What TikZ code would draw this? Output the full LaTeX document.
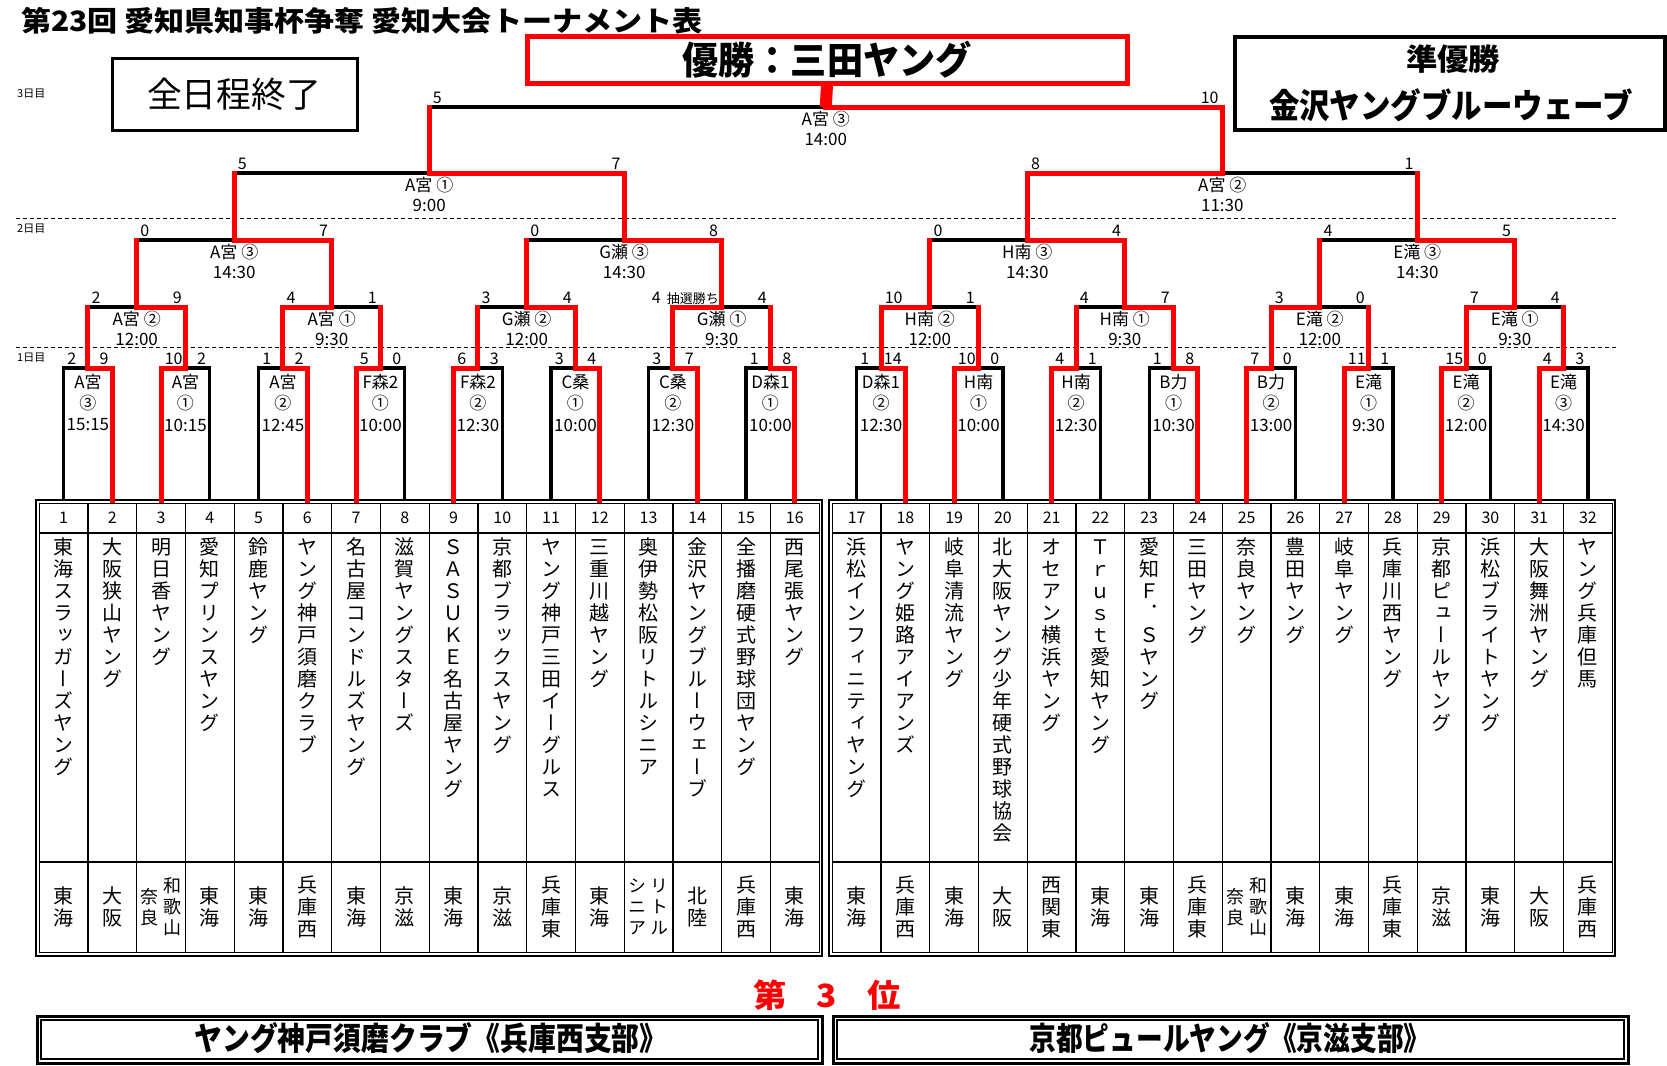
\documentclass[tikz,border=0pt]{standalone}
\usepackage{fontspec}
\usepackage{graphicx}
\setmainfont{Noto Sans CJK JP}
\newfontfamily\tatefont[RawFeature=+vert]{Noto Sans CJK JP}

% one character per line, for the team columns
\def\tateaux#1{\ifx#1\relax\else\hbox to 1.1em{\hss\vrule height .88em depth .12em width 0pt #1\hss}\expandafter\tateaux\fi}
\newcommand\tatebox[2]{\vbox{\baselineskip=#1\lineskiplimit=-100pt\lineskip=0pt\expandafter\tateaux#2\relax}}
\newcommand\tworg[2]{{\fontsize{18}{21}\selectfont$\vcenter{\tatebox{21pt}{#2}}\kern3pt\vcenter{\tatebox{21pt}{#1}}$}}
\newcommand\wkn{\tworg{和歌山}{奈良}}
\newcommand\lts{\tworg{リトル}{シニア}}
\newcommand\fitw[2]{\resizebox{#1}{\height}{#2}}

\tikzset{
  declare function={tx(\k)=(\k<17)*(39.2+48.75*(\k-0.5))+(\k>16)*(832.3+48.75*(\k-16.5));},
  box/.style={line width=3.2pt, black},
  win/.style={line width=5pt, red, line cap=rect, line join=miter},
  daysep/.style={line width=1pt, dash pattern=on 4pt off 3pt},
  cell/.style={line width=1.2pt},
  lbl/.style={inner sep=0pt, font=\fontsize{17}{17}\selectfont},
  score/.style={inner sep=0pt, font=\fontsize{16}{16}\selectfont},
  day/.style={anchor=west, inner sep=0pt, font=\fontsize{11}{11}\selectfont},
  hdr/.style={inner sep=0pt, font=\fontsize{16}{16}\selectfont},
  tname/.style={anchor=north, inner sep=0pt, font=\tatefont\fontsize{20}{22}\selectfont},
  rname/.style={inner sep=0pt, font=\tatefont\fontsize{20}{22}\selectfont},
}

\def\matchlist{1/1/2/9/1/A宮/③/15:15, 1/2/10/2/0/A宮/①/10:15, 1/3/1/2/1/A宮/②/12:45, 1/4/5/0/0/F森2/①/10:00,
  1/5/6/3/0/F森2/②/12:30, 1/6/3/4/1/C桑/①/10:00, 1/7/3/7/1/C桑/②/12:30, 1/8/1/8/1/D森1/①/10:00,
  1/9/1/14/1/D森1/②/12:30, 1/10/10/0/0/H南/①/10:00, 1/11/4/1/0/H南/②/12:30, 1/12/1/8/1/B力/①/10:30,
  1/13/7/0/0/B力/②/13:00, 1/14/11/1/0/E滝/①/9:30, 1/15/15/0/0/E滝/②/12:00, 1/16/4/3/0/E滝/③/14:30,
  2/1/2/9/1/A宮/②/12:00, 2/2/4/1/0/A宮/①/9:30, 2/3/3/4/1/G瀬/②/12:00, 2/4/{}/4/0/G瀬/①/9:30,
  2/5/10/1/0/H南/②/12:00, 2/6/4/7/1/H南/①/9:30, 2/7/3/0/0/E滝/②/12:00, 2/8/7/4/0/E滝/①/9:30,
  3/1/0/7/1/A宮/③/14:30, 3/2/0/8/1/G瀬/③/14:30, 3/3/0/4/1/H南/③/14:30, 3/4/4/5/1/E滝/③/14:30,
  4/1/5/7/1/A宮/①/9:00, 4/2/8/1/0/A宮/②/11:30,
  5/1/5/10/1/A宮/③/14:00}

\def\teamlist{1/東海スラッガーズヤング/東海, 2/大阪狭山ヤング/大阪, 3/明日香ヤング/\wkn, 4/愛知プリンスヤング/東海,
  5/鈴鹿ヤング/東海, 6/ヤング神戸須磨クラブ/兵庫西, 7/名古屋コンドルズヤング/東海, 8/滋賀ヤングスターズ/京滋,
  9/ＳＡＳＵＫＥ名古屋ヤング/東海, 10/京都ブラックスヤング/京滋, 11/ヤング神戸三田イーグルス/兵庫東, 12/三重川越ヤング/東海,
  13/奥伊勢松阪リトルシニア/\lts, 14/金沢ヤングブルーウェーブ/北陸, 15/全播磨硬式野球団ヤング/兵庫西, 16/西尾張ヤング/東海,
  17/浜松インフィニティヤング/東海, 18/ヤング姫路アイアンズ/兵庫西, 19/岐阜清流ヤング/東海, 20/北大阪ヤング少年硬式野球協会/大阪,
  21/オセアン横浜ヤング/西関東, 22/Ｔｒｕｓｔ愛知ヤング/東海, 23/愛知Ｆ．Ｓヤング/東海, 24/三田ヤング/兵庫東,
  25/奈良ヤング/\wkn, 26/豊田ヤング/東海, 27/岐阜ヤング/東海, 28/兵庫川西ヤング/兵庫東,
  29/京都ピュールヤング/京滋, 30/浜松ブライトヤング/東海, 31/大阪舞洲ヤング/大阪, 32/ヤング兵庫但馬/兵庫西}

\begin{document}
\begin{tikzpicture}[x=1pt,y=-1pt]
  \useasboundingbox (0,0) rectangle (1667,1065);

  % heading
  \node[anchor=west, inner sep=0pt, font=\bfseries\fontsize{28}{28}\selectfont] (title) at (21,21) {\fitw{681pt}{第23回 愛知県知事杯争奪 愛知大会トーナメント表}};
  \node[draw=red, line width=5pt, minimum width=600pt, minimum height=46pt, inner sep=0pt] (champ) at (827,60) {};
  \node[inner sep=0pt, font=\bfseries\fontsize{38}{38}\selectfont] (champname) at (827,60) {\fitw{289pt}{優勝：三田ヤング}};
  \node[draw, line width=3.5pt, minimum width=430pt, minimum height=93pt, inner sep=0pt] (runner) at (1450,83.5) {};
  \node[inner sep=0pt, font=\bfseries\fontsize{30}{30}\selectfont] (runlbl) at (1453,59) {\fitw{94pt}{準優勝}};
  \node[inner sep=0pt, font=\bfseries\fontsize{34}{34}\selectfont] (runname) at (1451,105) {\fitw{364pt}{金沢ヤングブルーウェーブ}};
  \node[draw, line width=3pt, minimum width=245pt, minimum height=71pt, inner sep=0pt] (done) at (234.5,94.5) {};
  \node[inner sep=0pt, font=\fontsize{35}{35}\selectfont] (donelbl) at (234,94) {\fitw{174pt}{全日程終了}};

  \node[day] (day3) at (17,94) {3日目};
  \node[day] (day2) at (17,229) {2日目};
  \node[day] (day1) at (17,358) {1日目};
  \draw[daysep] (16,218) -- (1616,218);
  \draw[daysep] (16,347) -- (1616,347);

  % team tables
  \foreach \tl in {39.2,832.3} {
    \draw[line width=2pt] (\tl-3,500) rectangle (\tl+783,956);
    \draw[cell] (\tl,503.5) rectangle (\tl+780,952.5);
    \draw[cell] (\tl,533) -- (\tl+780,533);
    \draw[cell] (\tl,862) -- (\tl+780,862);
    \foreach \j in {1,...,15}
      \draw[cell] (\tl+48.75*\j,503.5) -- (\tl+48.75*\j,952.5);
  }
  \foreach \i/\nm/\rg in \teamlist {
    \pgfmathsetmacro\x{tx(\i)}
    \node[hdr] (h\i) at (\x,518) {\i};
    \node[tname] (n\i) at (\x,537) {\tatebox{22pt}{\nm}};
    \node[rname] (g\i) at (\x,907) {\tatebox{22pt}{\rg}};
  }

  % bracket lines and labels
  \foreach \r/\k/\sa/\sb/\w/\va/\vb/\tm in \matchlist {
    \pgfmathtruncatemacro\fa{(\k-1)*2^\r+1}
    \pgfmathtruncatemacro\la{\k*2^\r}
    \pgfmathtruncatemacro\hf{2^(\r-1)}
    \pgfmathsetmacro\xc{(tx(\fa)+tx(\la))/2}
    \pgfmathsetmacro\xl{(tx(\fa)+tx(\fa+\hf-1))/2}
    \pgfmathsetmacro\xr{(tx(\fa+\hf)+tx(\la))/2}
    \pgfmathsetmacro\yh{{500,368,307,240,173,107,83}[\r]}
    \coordinate (c\r-\k) at (\xc,\yh);
    \ifnum\r=1
      \draw[box] (\xl,500) -- (\xl,\yh) -- (\xr,\yh) -- (\xr,500);
      \node[lbl] (v\r-\k) at (\xc,382) {\va};
      \node[lbl] (o\r-\k) at (\xc,403) {\vb};
      \node[lbl] (t\r-\k) at (\xc,425) {\tm};
    \else
      \draw[box] (\xl,\yh) -- (\xr,\yh);
      \node[lbl] (v\r-\k) at (\xc,\yh+12) {\va\ \vb};
      \node[lbl] (t\r-\k) at (\xc,\yh+32) {\tm};
    \fi
    \node[score, anchor=base west] (sa\r-\k) at (\xl+3.5,\yh-4) {\sa};
    \node[score, anchor=base east] (sb\r-\k) at (\xr-3.5,\yh-4) {\sb};
  }
  \node[score, anchor=base east] (lot) at (719,303) {4\hspace{6pt}{\fontsize{13}{13}\selectfont 抽選勝ち}};

  % winners' path
  \foreach \r/\k/\sa/\sb/\w/\va/\vb/\tm in \matchlist {
    \pgfmathtruncatemacro\fa{(\k-1)*2^\r+1}
    \pgfmathtruncatemacro\la{\k*2^\r}
    \pgfmathtruncatemacro\hf{2^(\r-1)}
    \pgfmathsetmacro\xc{(tx(\fa)+tx(\la))/2}
    \pgfmathsetmacro\xl{(tx(\fa)+tx(\fa+\hf-1))/2}
    \pgfmathsetmacro\xr{(tx(\fa+\hf)+tx(\la))/2}
    \pgfmathsetmacro\xw{\w*\xr+(1-\w)*\xl}
    \pgfmathsetmacro\yh{{500,368,307,240,173,107,83}[\r]}
    \pgfmathsetmacro\yc{{500,500,368,307,240,173,107}[\r]}
    \pgfmathsetmacro\yp{{500,307,240,173,107,83,83}[\r]}
    \draw[win] (\xw,\yc) -- (\xw,\yh) -- (\xc,\yh) -- (\xc,\yp);
  }
  \draw[win, line width=12pt, line cap=butt] (c5-1) -- (champ.south);

  % third place
  \node[red, inner sep=0pt, font=\bfseries\fontsize{32}{32}\selectfont] (third) at (827,995) {\fitw{147pt}{第\hspace{0.9em}3\hspace{0.9em}位}};
  \draw[line width=3pt] (37,1016) rectangle (822,1063);
  \draw[line width=1.5pt] (41,1020) rectangle (818,1059);
  \draw[line width=3pt] (833,1016) rectangle (1628,1063);
  \draw[line width=1.5pt] (837,1020) rectangle (1624,1059);
  \node[inner sep=0pt, font=\bfseries\fontsize{32}{32}\selectfont] (third1) at (431,1038) {\fitw{473pt}{ヤング神戸須磨クラブ《兵庫西支部》}};
  \node[inner sep=0pt, font=\bfseries\fontsize{32}{32}\selectfont] (third2) at (1230,1038) {\fitw{401pt}{京都ピュールヤング《京滋支部》}};
\end{tikzpicture}
\end{document}
